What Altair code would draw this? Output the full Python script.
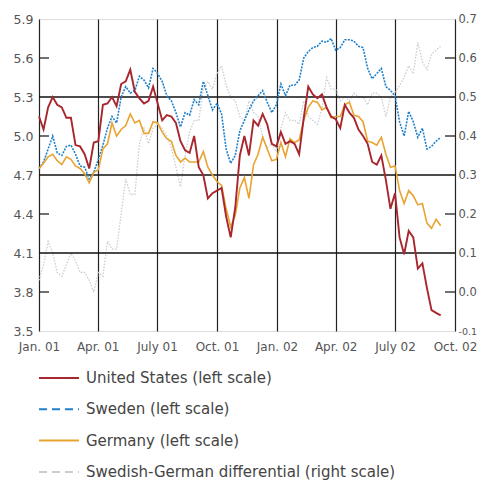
import altair as alt
import pandas as pd

# Weekly readings, starting 1 Jan 2001
start_date = "2001-01-01"

us = [
    5.15, 5.05, 5.22, 5.30, 5.24, 5.22, 5.14, 5.14, 4.93, 4.92,
    4.86, 4.75, 4.95, 4.96, 5.24, 5.25, 5.30, 5.23, 5.40, 5.42,
    5.51, 5.34, 5.29, 5.25, 5.27, 5.38, 5.25, 5.12, 5.16, 5.15,
    5.10, 4.96, 4.89, 4.87, 5.00, 4.76, 4.70, 4.52, 4.56, 4.58,
    4.60, 4.38, 4.22, 4.45, 4.85, 5.00, 4.85, 5.12, 5.08, 5.17,
    5.09, 4.94, 4.92, 5.03, 4.94, 4.96, 4.94, 4.86, 5.14, 5.38,
    5.32, 5.29, 5.32, 5.22, 5.15, 5.13, 5.06, 5.24, 5.18, 5.14,
    5.05, 5.00, 4.94, 4.80, 4.78, 4.85, 4.66, 4.44, 4.56, 4.22,
    4.09, 4.27, 4.22, 3.98, 4.02, 3.83, 3.66, 3.64, 3.62,
]
se = [
    4.75, 4.80, 4.90, 5.00, 4.87, 4.85, 4.92, 4.93, 4.86, 4.77,
    4.76, 4.67, 4.72, 4.82, 4.93, 5.06, 5.15, 5.10, 5.30, 5.38,
    5.33, 5.35, 5.46, 5.43, 5.37, 5.52, 5.48, 5.42, 5.31, 5.27,
    5.18, 5.07, 5.18, 5.16, 5.28, 5.24, 5.42, 5.31, 5.20, 5.25,
    5.17, 4.90, 4.79, 4.85, 5.04, 5.12, 5.20, 5.27, 5.31, 5.35,
    5.26, 5.18, 5.24, 5.40, 5.31, 5.39, 5.39, 5.43, 5.60, 5.65,
    5.68, 5.69, 5.73, 5.72, 5.75, 5.66, 5.68, 5.74, 5.74, 5.73,
    5.69, 5.68, 5.52, 5.44, 5.48, 5.52, 5.38, 5.35, 5.31, 5.11,
    5.00, 5.19, 5.11, 4.99, 5.06, 4.90, 4.92, 4.96, 4.99,
]
de = [
    4.75, 4.79, 4.84, 4.86, 4.81, 4.78, 4.84, 4.82, 4.77, 4.75,
    4.71, 4.64, 4.72, 4.74, 4.90, 4.94, 5.10, 5.00, 5.05, 5.08,
    5.17, 5.10, 5.12, 5.02, 5.02, 5.11, 5.10, 5.03, 4.98, 4.96,
    4.85, 4.80, 4.83, 4.80, 4.80, 4.80, 4.88, 4.76, 4.70, 4.65,
    4.62, 4.44, 4.30, 4.39, 4.60, 4.68, 4.52, 4.78, 4.86, 4.99,
    4.90, 4.81, 4.82, 4.95, 4.84, 4.98, 4.95, 4.97, 5.12, 5.22,
    5.27, 5.26, 5.20, 5.22, 5.14, 5.15, 5.15, 5.24, 5.26, 5.16,
    5.15, 5.11, 4.96, 4.95, 4.93, 4.99, 4.86, 4.76, 4.77, 4.58,
    4.48, 4.58, 4.54, 4.47, 4.48, 4.33, 4.29, 4.36, 4.31,
]
diff = [
    0.03, 0.07, 0.13, 0.10, 0.05, 0.04, 0.07, 0.10, 0.08, 0.05,
    0.05, 0.03, 0.00, 0.05, 0.04, 0.13, 0.11, 0.11, 0.20, 0.29,
    0.25, 0.25, 0.38, 0.42, 0.38, 0.42, 0.43, 0.42, 0.40, 0.37,
    0.32, 0.27, 0.35, 0.41, 0.44, 0.44, 0.52, 0.54, 0.52, 0.56,
    0.58, 0.53, 0.50, 0.49, 0.45, 0.44, 0.49, 0.46, 0.45, 0.40,
    0.37, 0.38, 0.36, 0.42, 0.46, 0.44, 0.44, 0.43, 0.49, 0.45,
    0.44, 0.43, 0.47, 0.55, 0.52, 0.52, 0.49, 0.50, 0.49, 0.51,
    0.50, 0.50, 0.48, 0.51, 0.51, 0.50, 0.45, 0.50, 0.51, 0.53,
    0.55, 0.58, 0.56, 0.64, 0.59, 0.57, 0.61, 0.62, 0.63,
]

labels = [
    "United States (left scale)",
    "Sweden (left scale)",
    "Germany (left scale)",
    "Swedish-German differential (right scale)",
]
colors = ["#a8262d", "#1f80cc", "#e8a330", "#cccccc"]

left_ticks = [3.5, 3.8, 4.1, 4.4, 4.7, 5.0, 5.3, 5.6, 5.9]
right_ticks = [-0.1, 0.0, 0.1, 0.2, 0.3, 0.4, 0.5, 0.6, 0.7]
grid_vals = [4.1, 4.7, 5.3]
minor_vals = [3.8, 4.4, 5.0, 5.6]

W, H = 416, 312
FONT = "DejaVu Sans"

dates = pd.date_range(start_date, periods=len(us), freq="7D")
df = pd.DataFrame({"date": dates, "us": us, "se": se, "de": de, "diff": diff})
grid_df = pd.DataFrame({"v": grid_vals})
minor_df = pd.DataFrame({"v": minor_vals})
leg_df = pd.DataFrame({"series": labels, "date": [dates[0]] * 4, "v": [5.0] * 4})

quarters = [
    alt.DateTime(year=2001, month=1, date=1),
    alt.DateTime(year=2001, month=4, date=1),
    alt.DateTime(year=2001, month=7, date=1),
    alt.DateTime(year=2001, month=10, date=1),
    alt.DateTime(year=2002, month=1, date=1),
    alt.DateTime(year=2002, month=4, date=1),
    alt.DateTime(year=2002, month=7, date=1),
    alt.DateTime(year=2002, month=10, date=1),
]

x_axis = alt.Axis(
    values=quarters,
    labelExpr="(month(datum.value)==0 ? 'Jan.' : month(datum.value)==3 ? 'Apr.' : month(datum.value)==6 ? 'July' : 'Oct.') + ' ' + timeFormat(datum.value, '%y')",
    grid=True, gridColor="#222222", gridWidth=1.2,
    ticks=False, domain=False, title=None, labelOverlap=False, labelFlush=False,
    labelPadding=10, labelFontSize=12, labelColor="#555555", labelFont=FONT,
)
x_scale = alt.Scale(domain=[quarters[0], quarters[-1]])


def X():
    return alt.X("date:T", scale=x_scale, axis=x_axis)


left_scale = alt.Scale(domain=[3.5, 5.9], nice=False, zero=False)
left_axis = alt.Axis(
    values=left_ticks, format=".1f", orient="left", ticks=False, domain=False,
    grid=False, title=None, labelPadding=6, labelFontSize=12.5,
    labelColor="#555555", labelFont=FONT,
)
right_scale = alt.Scale(domain=[-0.1, 0.7], nice=False, zero=False)
right_axis = alt.Axis(
    values=right_ticks, orient="right", ticks=False, domain=False, grid=False,
    title=None, labelPadding=3,
    labelFontSize={"condition": {"test": "datum.value < -0.001", "value": 9.5}, "value": 11.5},
    labelColor="#555555", labelFont=FONT,
    labelExpr="datum.value < -0.001 ? '-' + format(abs(datum.value), '.1f') : format(abs(datum.value) < 0.001 ? 0 : datum.value, '.1f')",
)


def YL(field):
    return alt.Y(f"{field}:Q", scale=left_scale, axis=left_axis)


base = alt.Chart(df)

grey = base.mark_line(color=colors[3], strokeWidth=1.3, strokeDash=[1.5, 1.5]).encode(
    x=X(), y=alt.Y("diff:Q", scale=right_scale, axis=right_axis)
)

hgrid = alt.Chart(grid_df).mark_rule(color="#111111", strokeWidth=1.5).encode(y=YL("v"))
lticks = alt.Chart(minor_df).mark_rule(color="#222222", strokeWidth=1.3).encode(
    y=YL("v"), x=alt.value(0), x2=alt.value(10)
)
rticks = alt.Chart(minor_df).mark_rule(color="#222222", strokeWidth=1.3).encode(
    y=YL("v"), x=alt.value(W - 10), x2=alt.value(W)
)

blue = base.mark_line(color=colors[1], strokeWidth=1.6, strokeDash=[2, 1.2]).encode(x=X(), y=YL("se"))
orange = base.mark_line(color=colors[2], strokeWidth=1.6).encode(x=X(), y=YL("de"))
red = base.mark_line(color=colors[0], strokeWidth=1.9).encode(x=X(), y=YL("us"))

legend = alt.Legend(
    title=None, orient="none", legendX=-1, legendY=350, direction="vertical",
    symbolType="stroke", symbolSize=1600, symbolStrokeWidth=2,
    clipHeight=18, rowPadding=13.3, labelOffset=6, labelFontSize=15,
    labelFont=FONT, labelColor="#444444", padding=0, labelLimit=500,
)
leg = alt.Chart(leg_df).mark_line().encode(
    x=X(), y=YL("v"),
    color=alt.Color("series:N", scale=alt.Scale(domain=labels, range=colors), legend=legend),
    strokeDash=alt.StrokeDash(
        "series:N",
        scale=alt.Scale(domain=labels, range=[[1, 0], [8, 5], [1, 0], [8, 5]]),
        legend=legend,
    ),
)

left = alt.layer(hgrid, lticks, rticks, blue, orange, red, leg)

chart = (
    alt.layer(grey, left)
    .resolve_scale(y="independent")
    .properties(
        width=W, height=H,
        autosize=alt.AutoSizeParams(type="none"),
        padding={"left": 31, "top": 11, "right": 22, "bottom": 150},
    )
    .configure_view(stroke="#333333", strokeWidth=1.5)
    .configure(font=FONT)
)

chart.save("out.html", embed_options={"renderer": "svg", "actions": False})
